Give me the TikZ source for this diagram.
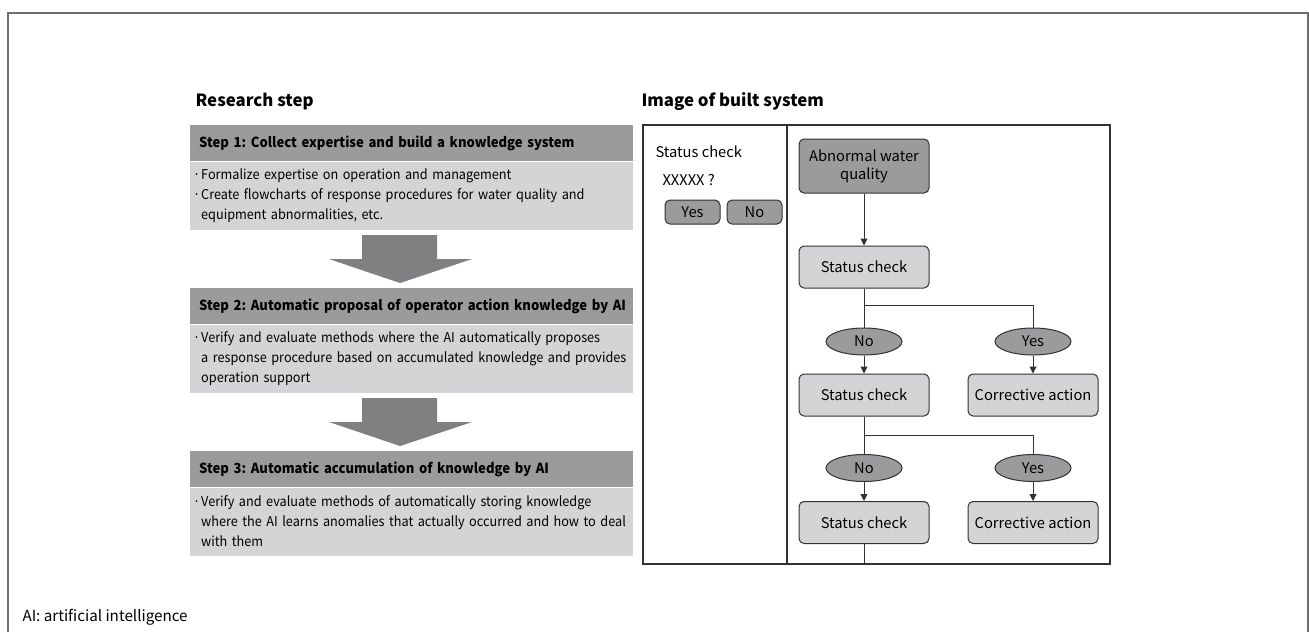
\documentclass[tikz,border=0pt]{standalone}
\usepackage{fontspec}
\setmainfont{Noto Sans CJK JP}
\newfontfamily\condfont{Noto Sans CJK JP}[FakeStretch=0.94]
\usetikzlibrary{arrows.meta, positioning, shapes.geometric}
\definecolor{hdgray}{RGB}{155,155,157}
\definecolor{bodygray}{RGB}{212,212,214}
\definecolor{arrgray}{RGB}{128,128,130}
\definecolor{linegray}{RGB}{50,50,50}
\definecolor{framegray}{RGB}{110,110,110}
\newcommand{\bul}{\makebox[8pt][l]{·}}
\newcommand{\ind}{\hspace*{8pt}}
\frenchspacing

\begin{document}
\begin{tikzpicture}[x=1pt, y=-1pt,
        title/.style={anchor=west, font=\fontsize{16.8}{20}\selectfont\bfseries},
        stephead/.style={rectangle, fill=hdgray, anchor=north west, minimum width=443pt, minimum height=36pt, text width=443pt, inner xsep=0pt, align=left, execute at begin node=\hspace*{9pt}, font=\condfont\fontsize{13.9}{17}\selectfont\bfseries},
        stepbody/.style={rectangle, fill=bodygray, anchor=north west, minimum width=443pt, minimum height=68pt, text width=437pt, inner xsep=3pt, align=left, font=\condfont\fontsize{13.5}{20}\selectfont},
        dark/.style={rectangle, draw=linegray, rounded corners=5pt, fill=hdgray, align=center, font=\fontsize{14.7}{18}\selectfont, line width=1pt},
        light/.style={rectangle, draw=linegray, rounded corners=5pt, fill=bodygray, align=center, minimum width=130pt, minimum height=42pt, font=\fontsize{14.7}{18}\selectfont, line width=1pt},
        answer/.style={ellipse, draw=linegray, fill=hdgray, minimum width=76pt, minimum height=27pt, inner sep=0pt, font=\fontsize{14.7}{18}\selectfont, line width=1pt},
        plain/.style={anchor=west, font=\fontsize{14.7}{18}\selectfont},
        flow/.style={draw=linegray, line width=1pt, -{Triangle[width=7pt, length=7pt]}},
        link/.style={draw=linegray, line width=1pt}
        ]

        \useasboundingbox (0,0) rectangle (1309,632);

        % outer frame
        \draw[framegray, line width=1.5pt] (8,632) -- (8,13) -- (1308,13) -- (1308,632);

        % Research steps
        \node (reshead) [title] at (192,102) {Research step};
        \node (s1head) [stephead] at (190,125) {Step 1: Collect expertise and build a knowledge system};
        \node (s1body) [stepbody, below=0pt of s1head.south west, anchor=north west] {\bul Formalize expertise on operation and management\\
            \bul Create flowcharts of response procedures for water quality and\\
            \ind equipment abnormalities, etc.};
        \node (s2head) [stephead] at (190,288) {Step 2: Automatic proposal of operator action knowledge by AI};
        \node (s2body) [stepbody, below=0pt of s2head.south west, anchor=north west] {\bul Verify and evaluate methods where the AI automatically proposes\\
            \ind a response procedure based on accumulated knowledge and provides\\
            \ind operation support};
        \node (s3head) [stephead] at (190,451) {Step 3: Automatic accumulation of knowledge by AI};
        \node (s3body) [stepbody, below=0pt of s3head.south west, anchor=north west] {\bul Verify and evaluate methods of automatically storing knowledge\\
            \ind where the AI learns anomalies that actually occurred and how to deal\\
            \ind with them};

        % block arrows
        \fill[arrgray] (362,235) -- (437,235) -- (437,259) -- (472,259) -- (400,283) -- (329,259) -- (362,259) -- cycle;
        \fill[arrgray] (362,398) -- (437,398) -- (437,422) -- (472,422) -- (400,446) -- (329,422) -- (362,422) -- cycle;

        % Image of built system
        \node (imghead) [title] at (638,102) {Image of built system};
        \draw[linegray, line width=1.2pt] (643,125) rectangle (1110,564);
        \draw[linegray, line width=1.2pt] (787,125) -- (787,564);

        \node (scheck) [plain] at (652,152) {Status check};
        \node (query) [plain] at (659,180) {XXXXX ?};
        \node (btnyes) [dark, minimum width=55pt, minimum height=24pt, inner sep=0pt] at (692.5,212) {Yes};
        \node (btnno) [dark, minimum width=55pt, minimum height=24pt, inner sep=0pt] at (754.5,212) {No};

        % flowchart
        \node (abn) [dark, minimum width=130pt, minimum height=54pt] at (864,166) {Abnormal water\\quality};
        \node (chk1) [light] at (864,267) {Status check};
        \node (no1) [answer] at (864,341.5) {No};
        \node (yes1) [answer] at (1033,341.5) {Yes};
        \node (chk2) [light] at (864,395) {Status check};
        \node (act1) [light] at (1033,395) {Corrective action};
        \node (no2) [answer] at (864,468) {No};
        \node (yes2) [answer] at (1033,468) {Yes};
        \node (chk3) [light] at (864,522.5) {Status check};
        \node (act2) [light] at (1033,522.5) {Corrective action};
        \coordinate (br1) at (864,305);
        \coordinate (br2) at (864,435);
        \coordinate (pbot) at (864,564);

        \draw[flow] (abn) -- (chk1);
        \draw[link] (chk1) -- (no1);
        \draw[link] (br1) -| (yes1.north);
        \draw[flow] (no1) -- (chk2);
        \draw[flow] (yes1) -- (act1);
        \draw[link] (chk2) -- (no2);
        \draw[link] (br2) -| (yes2.north);
        \draw[flow] (no2) -- (chk3);
        \draw[flow] (yes2) -- (act2);
        \draw[link] (chk3) -- (pbot);

        % note
        \node (note) [plain, font=\fontsize{15.2}{18}\selectfont] at (19,617) {AI: artificial intelligence};

\end{tikzpicture}
\end{document}
